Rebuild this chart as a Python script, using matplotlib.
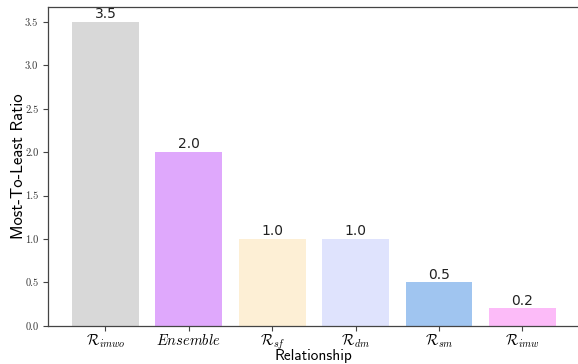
import matplotlib
matplotlib.use("Agg")
import matplotlib.pyplot as plt
import numpy as np

plt.rcParams['mathtext.fontset'] = 'cm'

relationships = [r'$\mathcal{R}_{imwo}$', r'$Ensemble$', r'$\mathcal{R}_{sf}$',
                 r'$\mathcal{R}_{dm}$', r'$\mathcal{R}_{sm}$', r'$\mathcal{R}_{imw}$']
ratios = [3.5, 2.0, 1.0, 1.0, 0.5, 0.2]
bar_colors = ['#d8d8d8', '#dfa8fc', '#fdefd5', '#dfe3fd', '#a0c5f0', '#fcbbf8']

fig = plt.figure(figsize=(5.78, 3.64), dpi=100)
ax = fig.add_axes([0.083, 0.105, 0.92, 0.876])

x = np.arange(len(ratios))
bars = ax.bar(x, ratios, width=0.8, color=bar_colors)

# value on top of each bar
for xi, v in zip(x, ratios):
    ax.text(xi, v + 0.01, '{:.1f}'.format(v), ha='center', va='bottom',
            fontsize=10, family='DejaVu Sans', color='#222222')

ax.set_xticks(x)
ax.set_xticklabels(relationships, fontsize=10.5)
ax.set_yticks(np.arange(0, 3.51, 0.5))
ax.set_yticklabels(['{:.1f}'.format(t) for t in np.arange(0, 3.51, 0.5)],
                   family='cmr10', fontsize=7.5, color='#333333')

ax.set_xlabel('Relationship', family='cmss10', fontsize=11, labelpad=-2.5)
ax.set_ylabel('Most-To-Least Ratio', family='cmss10', fontsize=12, labelpad=-0.5)

for s in ax.spines.values():
    s.set_color('#444444')
    s.set_linewidth(0.9)
# right edge of the frame falls off the figure
ax.spines['right'].set_visible(False)
ax.tick_params(axis='both', length=3.5, width=0.8, color='#444444')
ax.tick_params(axis='x', pad=1.5)

fig.savefig('out.png', dpi=100)
